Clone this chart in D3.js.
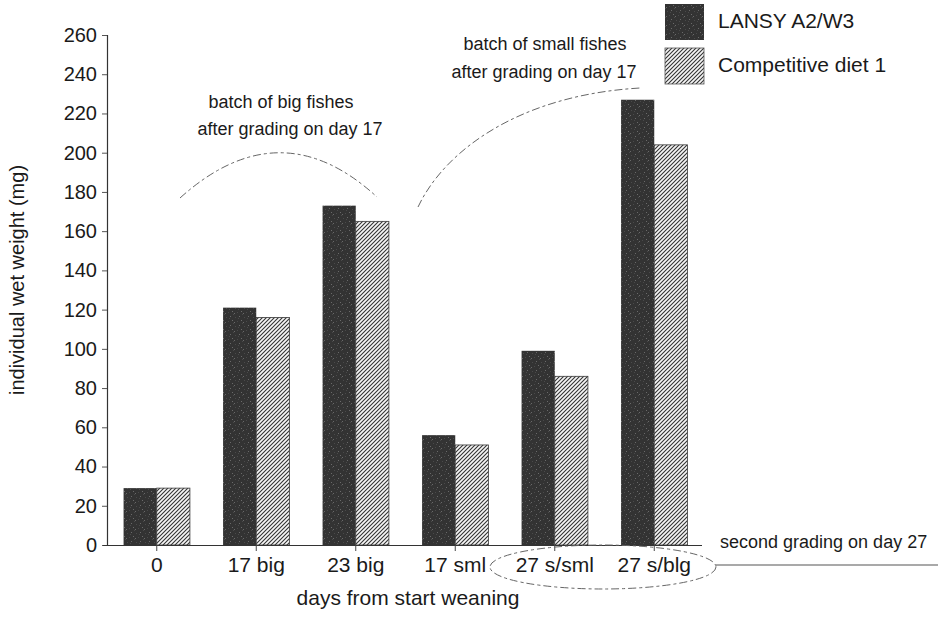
<!DOCTYPE html>
<html>
<head>
<meta charset="utf-8">
<script src="https://cdn.jsdelivr.net/npm/d3@7"></script>
<style>
  html, body { margin: 0; padding: 0; background: #fff; }
  svg { display: block; }
  text { font-family: "Liberation Sans", Arial, Helvetica, sans-serif; fill: #1a1a1a; }
</style>
</head>
<body>
<svg id="chart" width="943" height="618"></svg>
<script>
// ---- data ----
const categories = ["0", "17 big", "23 big", "17 sml", "27 s/sml", "27 s/blg"];
const seriesNames = ["LANSY A2/W3", "Competitive diet 1"];
const lansyValues = [29, 121, 173, 56, 99, 227];
const competitiveValues = [29, 116, 165, 51, 86, 204];
const yTicks = [0, 20, 40, 60, 80, 100, 120, 140, 160, 180, 200, 220, 240, 260];

const svg = d3.select("#chart");
const defs = svg.append("defs");

// dark speckled pattern
const dark = defs.append("pattern").attr("id", "darkPat")
  .attr("patternUnits", "userSpaceOnUse").attr("width", 9).attr("height", 9);
dark.append("rect").attr("width", 9).attr("height", 9).attr("fill", "#333333");
[[1,2],[5,1],[3,6],[7,5],[8,8],[0,7],[4,3]].forEach(([x,y], i) => {
  dark.append("rect").attr("x", x).attr("y", y).attr("width", 1).attr("height", 1)
    .attr("fill", i % 2 ? "#6a6a6a" : "#4a4a4a");
});

// hatched pattern
const hatch = defs.append("pattern").attr("id", "hatchPat")
  .attr("patternUnits", "userSpaceOnUse").attr("width", 4).attr("height", 4);
hatch.append("rect").attr("width", 4).attr("height", 4).attr("fill", "#f6f6f6");
hatch.append("path").attr("d", "M-1,1 l2,-2 M0,4 l4,-4 M3,5 l2,-2")
  .attr("stroke", "#333").attr("stroke-width", 1.1);

const fills = ["url(#darkPat)", "url(#hatchPat)"];

// ---- scales ----
const x = d3.scaleBand().domain(categories).range([107, 704])
  .paddingInner(1/3).paddingOuter(1/6);
const xSub = d3.scaleBand().domain([0, 1]).range([0, x.bandwidth()]);
const y = d3.scaleLinear().domain([0, 260]).range([545, 35]);

// ---- bars ----
const seriesValues = [lansyValues, competitiveValues];
seriesValues.forEach((vals, s) => {
  svg.append("g").selectAll("rect").data(vals).join("rect")
    .attr("x", (d, i) => x(categories[i]) + xSub(s))
    .attr("y", d => y(d))
    .attr("width", xSub.bandwidth())
    .attr("height", d => y(0) - y(d))
    .attr("fill", fills[s])
    .attr("stroke", s === 1 ? "#3a3a3a" : "none")
    .attr("stroke-width", 0.8);
});

// ---- axes ----
const yAxis = d3.axisLeft(y).tickValues(yTicks).tickSize(5).tickPadding(5);
const gy = svg.append("g").attr("transform", "translate(107,0)").call(yAxis);
gy.select(".domain").attr("stroke", "#333").attr("stroke-width", 1.2);
gy.selectAll(".tick line").attr("stroke", "#555");
gy.selectAll(".tick text").attr("font-size", 20).attr("fill", "#1a1a1a")
  .attr("font-family", "Liberation Sans, Arial, sans-serif");

const xAxis = d3.axisBottom(x).tickSize(6).tickSizeOuter(0).tickPadding(6);
const gx = svg.append("g").attr("transform", "translate(0,545)").call(xAxis);
gx.select(".domain").attr("d", "M103,0.5H702").attr("stroke", "#333").attr("stroke-width", 1.2);
gx.selectAll(".tick line").attr("stroke", "#444");
gx.selectAll(".tick text").attr("font-size", 21).attr("fill", "#1a1a1a")
  .attr("font-family", "Liberation Sans, Arial, sans-serif");

// axis titles
svg.append("text").attr("transform", "translate(24,280) rotate(-90)")
  .attr("text-anchor", "middle").attr("font-size", 20)
  .text("individual wet weight (mg)");
svg.append("text").attr("x", 408).attr("y", 605)
  .attr("text-anchor", "middle").attr("font-size", 21)
  .text("days from start weaning");

// ---- legend ----
const legend = svg.append("g");
seriesNames.forEach((name, i) => {
  legend.append("rect").attr("x", 665).attr("y", 4 + i * 44)
    .attr("width", 39).attr("height", 36).attr("fill", fills[i])
    .attr("stroke", i === 1 ? "#555" : "none").attr("stroke-width", 0.8);
  legend.append("text").attr("x", 718).attr("y", 28 + i * 44)
    .attr("font-size", 21).text(name);
});

// ---- annotations ----
const ann = svg.append("g").attr("font-size", 18);
ann.append("text").attr("x", 281).attr("y", 108).attr("text-anchor", "middle").text("batch of big fishes");
ann.append("text").attr("x", 290).attr("y", 135).attr("text-anchor", "middle").text("after grading on day 17");
ann.append("text").attr("x", 545).attr("y", 50).attr("text-anchor", "middle").text("batch of small fishes");
ann.append("text").attr("x", 544).attr("y", 78).attr("text-anchor", "middle").text("after grading on day 17");
ann.append("text").attr("x", 720).attr("y", 548).text("second grading on day 27");

const dashStyle = sel => sel.attr("fill", "none").attr("stroke", "#666")
  .attr("stroke-width", 1).attr("stroke-dasharray", "8,3,3,3");

svg.append("path").attr("d", "M180,198 Q280,108 377,197").call(dashStyle);
svg.append("path").attr("d", "M418,207 C445,150 520,95 640,88").call(dashStyle);
svg.append("ellipse").attr("cx", 603).attr("cy", 567).attr("rx", 113).attr("ry", 22).call(dashStyle);
svg.append("line").attr("x1", 716).attr("y1", 565).attr("x2", 938).attr("y2", 565)
  .attr("stroke", "#555").attr("stroke-width", 1.2);
</script>
</body>
</html>
